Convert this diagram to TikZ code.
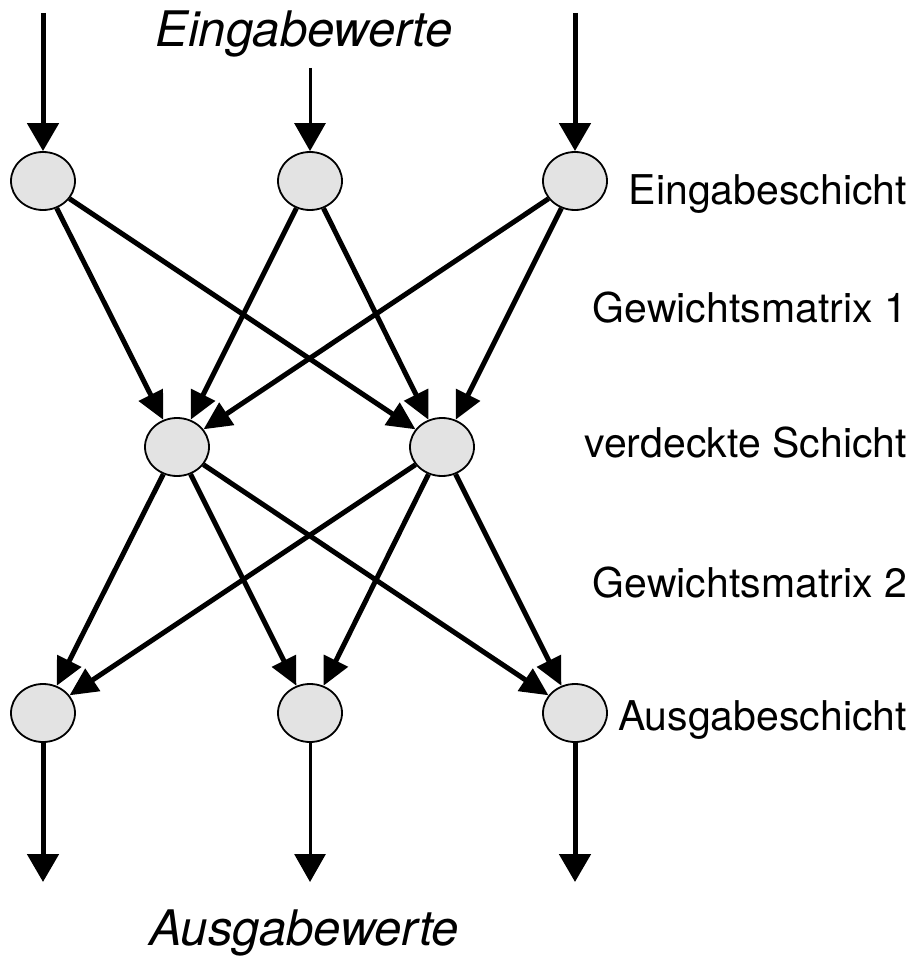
\documentclass[tikz,border=0pt]{standalone}
\usepackage{fontspec}
\setmainfont{TeX Gyre Heros}
\usetikzlibrary{arrows.meta,shapes.geometric}

\tikzset{
  neuron/.style={ellipse, draw=black, line width=1.8pt, fill=gray!22,
                 minimum width=64pt, minimum height=58pt, inner sep=0pt},
  weight/.style={line width=5pt, -{Triangle[length=28pt,width=26pt]}},
  ioarrow/.style={line width=5pt, -{Triangle[length=28pt,width=31pt]}},
  ioarrowthin/.style={line width=3pt, -{Triangle[length=28pt,width=31pt]}},
  layerlabel/.style={anchor=base east, inner sep=0pt,
                     font=\fontsize{41pt}{44pt}\selectfont},
  iolabel/.style={anchor=base, inner sep=0pt,
                  font=\fontsize{49pt}{54pt}\selectfont\itshape}
}

\begin{document}
\begin{tikzpicture}[x=1pt, y=-1pt]
  \useasboundingbox (0,0) rectangle (915,957);

  % neurons
  \node[neuron] (i1) at (43,181) {};
  \node[neuron] (i2) at (310,181) {};
  \node[neuron] (i3) at (575,181) {};
  \node[neuron] (h1) at (177,447) {};
  \node[neuron] (h2) at (442,447) {};
  \node[neuron] (o1) at (43,713) {};
  \node[neuron] (o2) at (310,713) {};
  \node[neuron] (o3) at (575,713) {};

  % free ends of the input and output arrows
  \coordinate (in1) at (43,13);
  \coordinate (in2) at (310,68);
  \coordinate (in3) at (575,13);
  \coordinate (out1) at (43,882);
  \coordinate (out2) at (310,882);
  \coordinate (out3) at (575,882);

  % input arrows
  \draw[ioarrow] (in1) -- (i1);
  \draw[ioarrowthin] (in2) -- (i2);
  \draw[ioarrow] (in3) -- (i3);

  % weight matrix 1
  \foreach \a in {i1,i2,i3}
    \foreach \b in {h1,h2}
      \draw[weight] (\a) -- (\b);

  % weight matrix 2
  \foreach \a in {h1,h2}
    \foreach \b in {o1,o2,o3}
      \draw[weight] (\a) -- (\b);

  % output arrows
  \draw[ioarrow] (o1) -- (out1);
  \draw[ioarrowthin] (o2) -- (out2);
  \draw[ioarrow] (o3) -- (out3);

  % labels
  \node[iolabel] (tin) at (304,47) {Eingabewerte};
  \node[iolabel] (tout) at (304,945) {Ausgabewerte};
  \node[layerlabel] (l1) at (907,205) {Eingabeschicht};
  \node[layerlabel] (l2) at (907,322) {Gewichtsmatrix 1};
  \node[layerlabel] (l3) at (907,457) {verdeckte Schicht};
  \node[layerlabel] (l4) at (907,597) {Gewichtsmatrix 2};
  \node[layerlabel] (l5) at (907,730) {Ausgabeschicht};
\end{tikzpicture}
\end{document}
